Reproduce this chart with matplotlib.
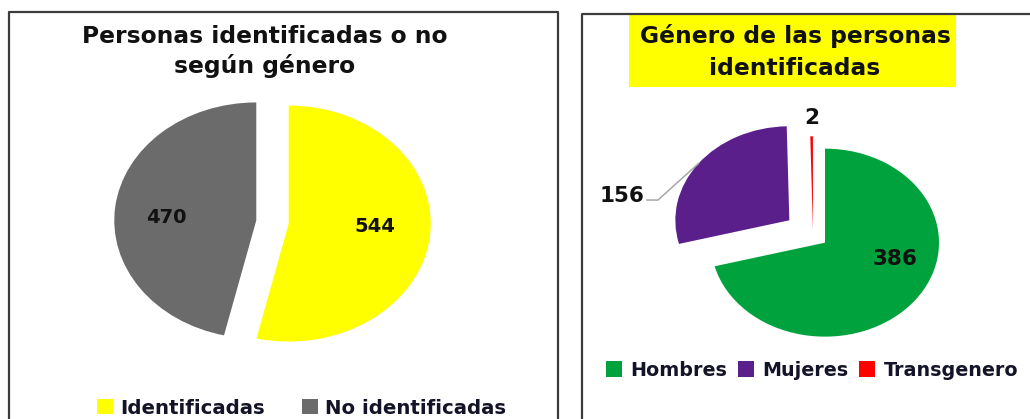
import matplotlib
matplotlib.use('Agg')
import matplotlib.pyplot as plt
from matplotlib.patches import Rectangle
from matplotlib.lines import Line2D
import numpy as np

# ---------------- data ----------------
left_title = ["Personas identificadas o no", "según género"]
left_labels = ["Identificadas", "No identificadas"]
left_values = [544, 470]
left_colors = ["#FFFF00", "#6B6B6B"]

right_title = ["Género de las personas", "identificadas"]
right_labels = ["Hombres", "Mujeres", "Transgenero"]
right_values = [386, 156, 2]
right_colors = ["#00A23D", "#5B1F8C", "#FF0000"]

# ---------------- style / layout ----------------
W, H = 1030, 419
FONT = ['DejaVu Sans']
TXT = '#141428'
BORDER = '#3c3c3c'
K = 1.6

fig = plt.figure(figsize=(W / 100, H / 100), dpi=100)


def fx(px):
    return px / W


def fy(py):
    return 1 - py / H


def pie_axes(cx, cy, rx, ry):
    return fig.add_axes([fx(cx - K * rx), fy(cy + K * ry), 2 * K * rx / W, 2 * K * ry / H])


def finish(ax):
    ax.set_aspect('auto')
    ax.set_xlim(-K, K)
    ax.set_ylim(-K, K)
    ax.axis('off')


# panel borders
fig.add_artist(Line2D([fx(9), fx(9), fx(558), fx(558)], [fy(430), fy(12.5), fy(12.5), fy(430)],
                      transform=fig.transFigure, color=BORDER, lw=1.6))
fig.add_artist(Line2D([fx(582), fx(582), fx(1040)], [fy(430), fy(14), fy(14)],
                      transform=fig.transFigure, color=BORDER, lw=1.6))

# ---------------- left chart ----------------
axL = pie_axes(272.5, 222, 142, 118)
wl, _ = axL.pie(left_values, colors=left_colors, startangle=90, counterclock=False,
                explode=[0.115, 0.115], wedgeprops=dict(linewidth=0))
finish(axL)
left_label_pos = [(0.72, -0.04), (-0.746, 0.034)]
for v, (x, y) in zip(left_values, left_label_pos):
    axL.text(x, y, str(v), ha='center', va='center', fontsize=14, fontweight='bold',
             family=FONT, color='#111111')

for line, base in zip(left_title, [43, 73]):
    fig.text(fx(265), fy(base), line, ha='center', va='baseline', fontsize=16.8,
             fontweight='bold', family=FONT, color='#111111')

fig.legend(handles=wl, labels=left_labels, loc='center', bbox_to_anchor=(fx(301.5), fy(408)),
           ncol=2, frameon=False, handlelength=0.8, handleheight=0.8, handletextpad=0.37,
           columnspacing=1.9, labelcolor=TXT, borderpad=0,
           prop=dict(family=FONT, weight='bold', size=14.2))

# ---------------- right chart ----------------
axR = pie_axes(813, 235, 114, 94)
wr, _ = axR.pie(right_values, colors=right_colors, startangle=90, counterclock=False,
                explode=[0.133, 0.26, 0.05], wedgeprops=dict(linewidth=0))
finish(axR)

# 386 inside green
axR.text(0.72, -0.26, str(right_values[0]), ha='center', va='center', fontsize=15.5,
         fontweight='bold', family=FONT, color='#111111')

# 156 with leader line from purple arc midpoint
wp = wr[1]
mid = np.deg2rad((wp.theta1 + wp.theta2) / 2)
ax0 = wp.center[0] + wp.r * np.cos(mid)
ay0 = wp.center[1] + wp.r * np.sin(mid)
elbow_x = -1.36
label_y = 0.372
axR.plot([ax0, elbow_x, -1.456], [ay0, label_y, label_y], color='#A6A6A6', lw=1.1)
axR.text(-1.48, label_y + 0.04, str(right_values[1]), ha='right', va='center', fontsize=15.5,
         fontweight='bold', family=FONT, color='#111111')

# 2 above red sliver
wt = wr[2]
midt = np.deg2rad((wt.theta1 + wt.theta2) / 2)
axR.text(wt.center[0] + 1.2 * np.cos(midt), wt.center[1] + 1.2 * np.sin(midt),
         str(right_values[2]), ha='center', va='center', fontsize=15.5, fontweight='bold',
         family=FONT, color='#111111')

# title with yellow highlight
fig.add_artist(Rectangle((fx(629), fy(87)), fx(956) - fx(629), fy(15) - fy(87),
                         transform=fig.transFigure, facecolor='#FFFF00', edgecolor='none'))
for line, base in zip(right_title, [43, 75]):
    fig.text(fx(795), fy(base), line, ha='center', va='baseline', fontsize=16.8,
             fontweight='bold', family=FONT, color='#111111')

fig.legend(handles=wr, labels=right_labels, loc='center', bbox_to_anchor=(fx(812), fy(370)),
           ncol=3, frameon=False, handlelength=0.85, handleheight=0.85, handletextpad=0.43,
           columnspacing=0.55, labelcolor=TXT, borderpad=0,
           prop=dict(family=FONT, weight='bold', size=13.8))

fig.savefig('out.png', dpi=100)
